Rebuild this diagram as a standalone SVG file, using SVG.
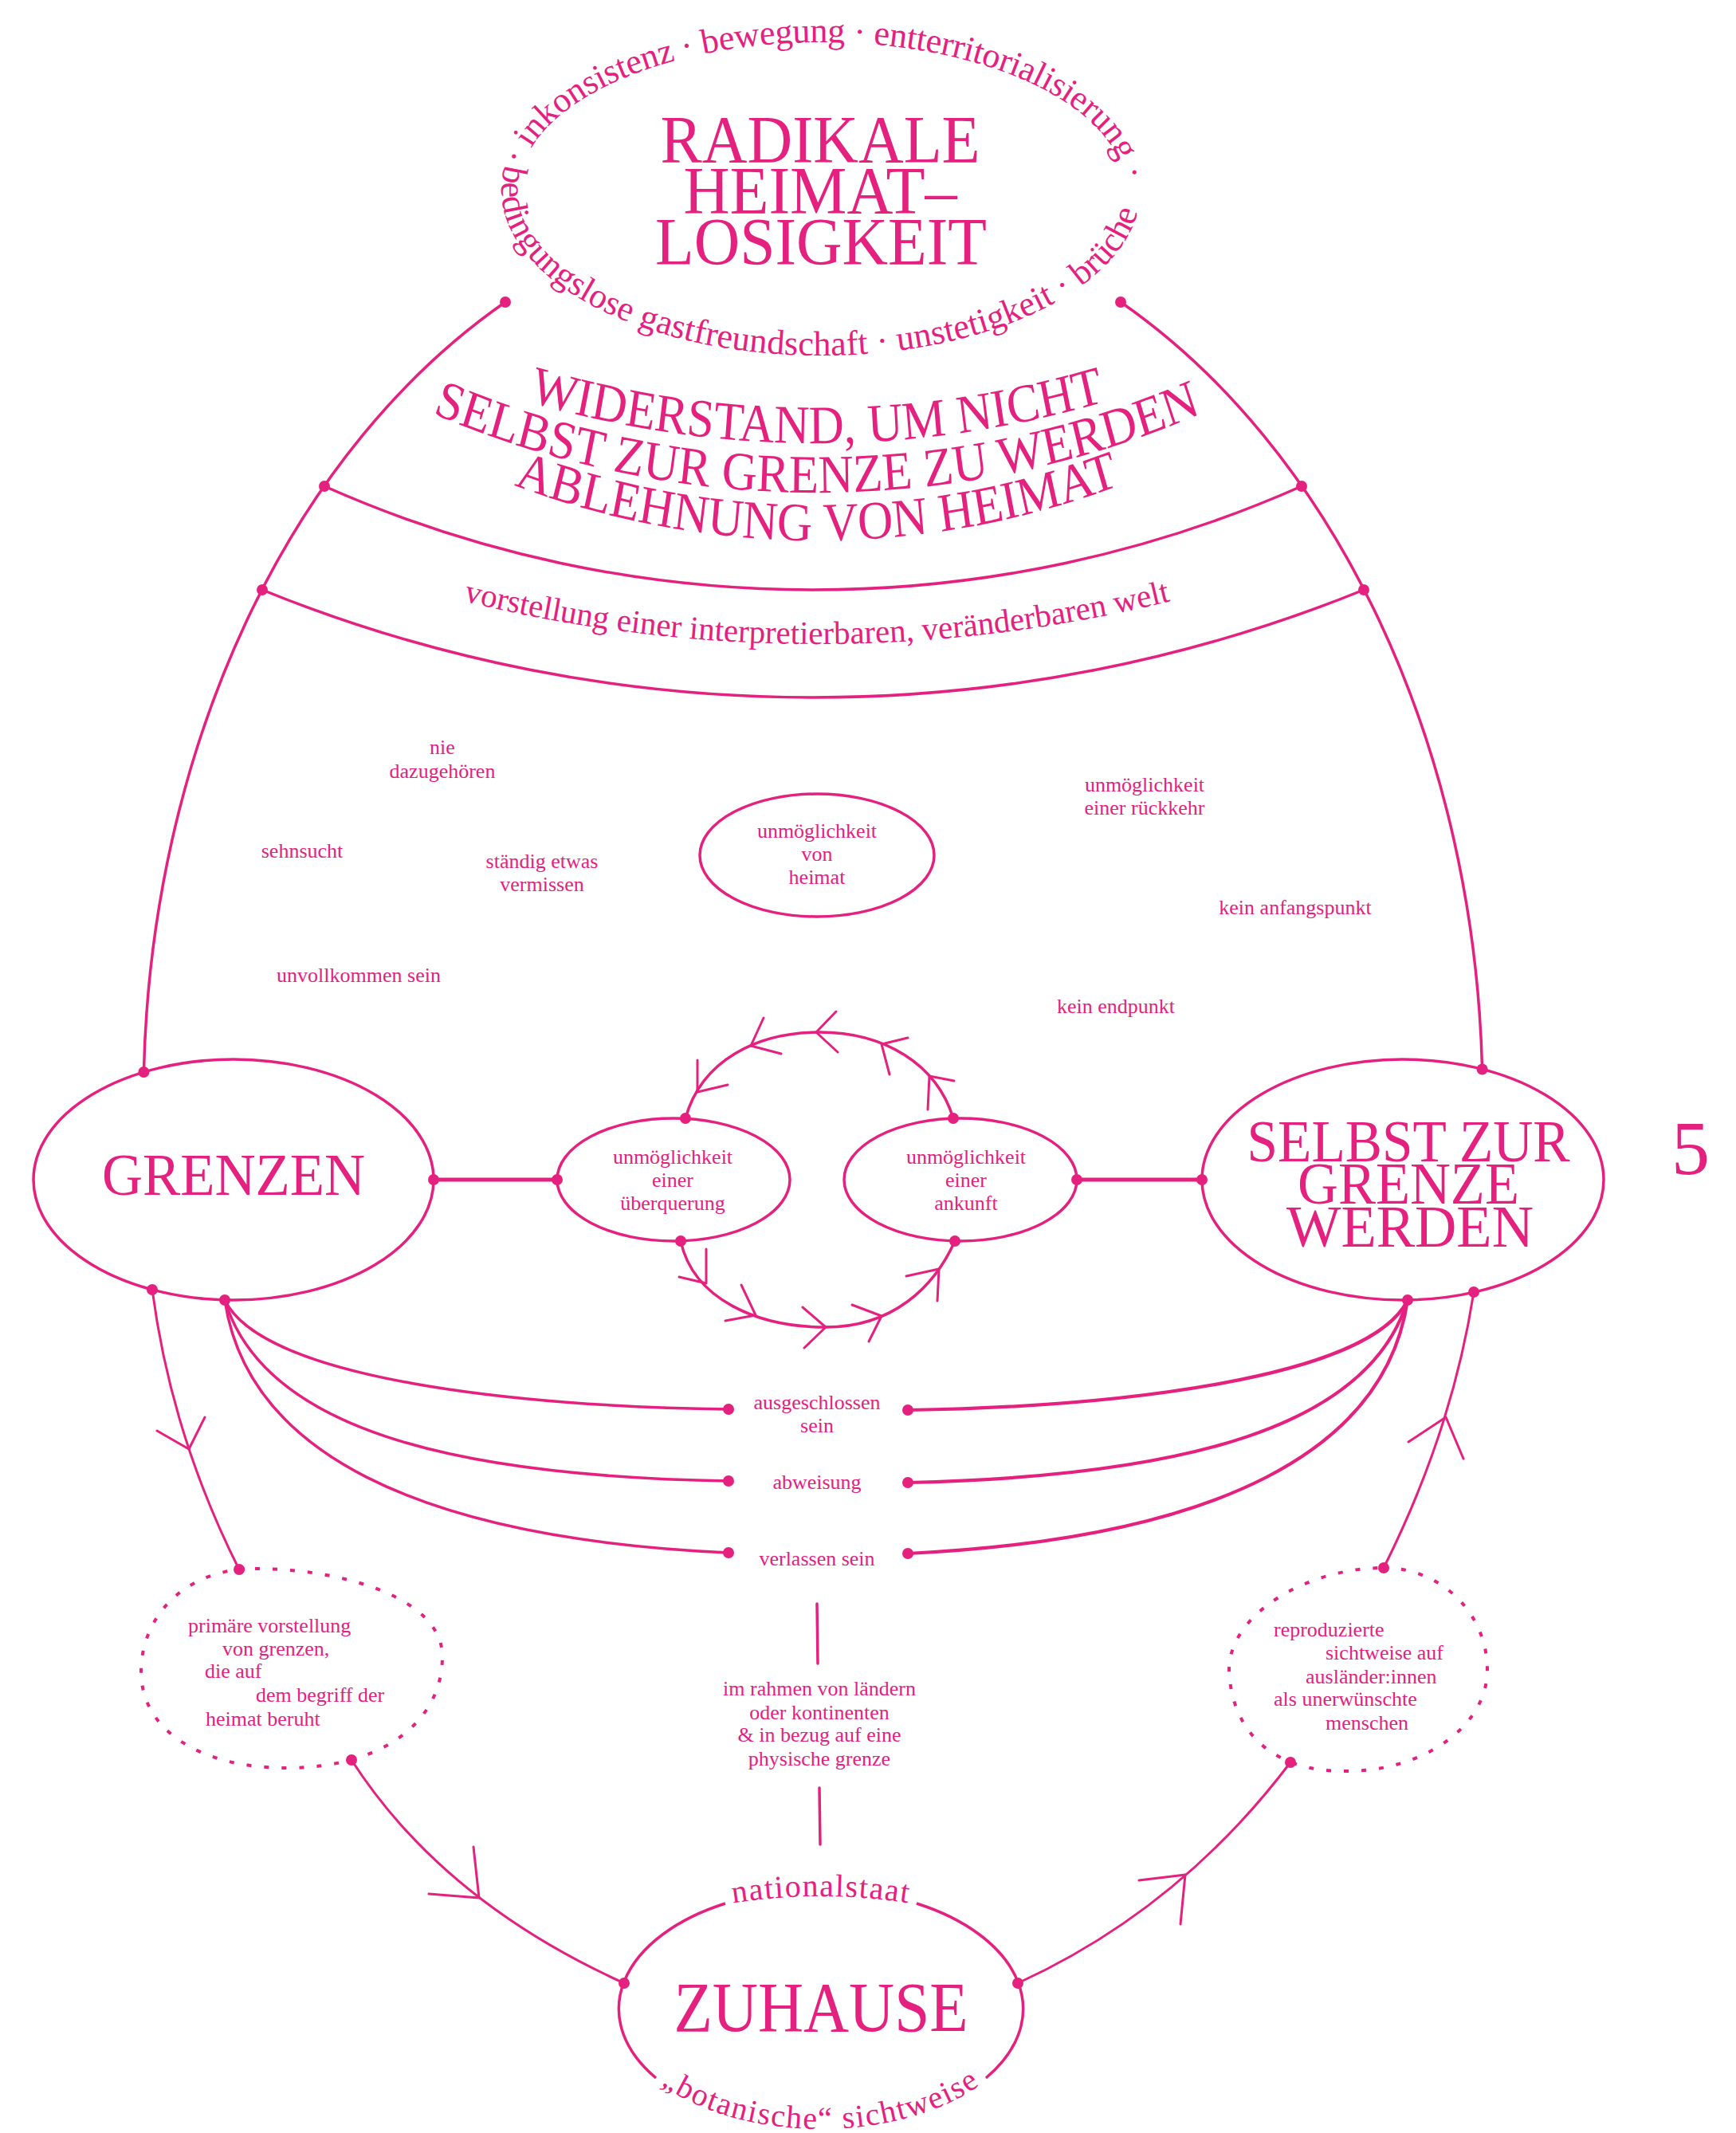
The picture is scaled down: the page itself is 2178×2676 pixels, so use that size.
<svg xmlns="http://www.w3.org/2000/svg" width="2178" height="2676" viewBox="0 0 2178 2676">
<style>
text { font-family: "Liberation Serif", "Times New Roman", serif; fill: #e4217f; }
.s { font-size: 26px; text-anchor: middle; }
.sl { font-size: 26px; }
.big { text-anchor: middle; }
.ln { fill: none; stroke: #e4217f; stroke-width: 3.5; stroke-linecap: round; }
.thin { stroke-width: 3; }
.thick { stroke-width: 5; }
.mid { stroke-width: 4.2; }
.arw { fill: none; stroke: #e4217f; stroke-width: 3; stroke-linecap: round; stroke-linejoin: round; }
.dot { fill: #e4217f; }
.node { fill: none; stroke: #e4217f; stroke-width: 3.5; }
.dash { fill: none; stroke: #e4217f; stroke-width: 4; stroke-dasharray: 6 16; }
</style>
<defs>
<path id="ringTop" d="M651,238 A380,185 0 0 1 1411,238"/>
<path id="ringBot" d="M635.1,201.9 A401,208 0 1 0 1424.9,201.9"/>
<path id="arc1" d="M214.3,326 A1413.3,1272 0 0 0 1835.7,326"/>
<path id="arc2" d="M248.1,397.6 A1354.4,1219 0 0 0 1801.9,397.6"/>
<path id="arc3" d="M341.1,484 A1192.2,1073 0 0 0 1708.9,484"/>
<path id="arcV" d="M505,733.5 A1852,1852 0 0 0 1545,733.5"/>
<path id="natPath" d="M880,2395 Q1030,2363 1180,2395"/>
<path id="botPath" d="M772,2520 A258,151 0 0 0 1288,2520"/>
</defs>
<rect width="2178" height="2676" fill="#ffffff"/>

<g id="connectors">
<path class="ln" d="M634,379 A840,1127 0 0 0 180.4,1345"/>
<path class="ln" d="M1406,379 A840,1127 0 0 1 1859.6,1341.5"/>
<path class="ln" d="M407,610 A1510,1510 0 0 0 1633,610"/>
<path class="ln" d="M329,740 A1836,1836 0 0 0 1711,740"/>
<path class="ln thick" d="M544,1480 L699,1480"/>
<path class="ln thick" d="M1351,1480 L1508,1480"/>
<path class="ln" d="M860,1403 C880,1330 950,1295 1028,1295 C1110,1295 1175,1335 1196,1403"/>
<path class="ln" d="M854,1557 C870,1630 950,1665 1036,1665 C1120,1665 1172,1615 1198,1557"/>
<path class="ln" d="M282,1631 C330,1730 650,1765 914,1768"/>
<path class="ln" d="M282,1631 C330,1790 560,1852 914,1858"/>
<path class="ln" d="M282,1631 C310,1820 520,1930 914,1948"/>
<path class="ln mid" d="M1766,1631 C1718,1730 1398,1765 1139,1769"/>
<path class="ln mid" d="M1766,1631 C1718,1790 1488,1852 1139,1860"/>
<path class="ln mid" d="M1766,1631 C1738,1820 1528,1930 1139,1949"/>
<path class="ln thin" d="M191,1618 Q215,1800 300,1969"/>
<path class="ln thin" d="M441,2208 Q555,2385 783,2488"/>
<path class="ln thin" d="M1277,2488 Q1480,2395 1619,2211"/>
<path class="ln thin" d="M1736,1967 Q1822,1795 1849,1621"/>
<path class="ln" d="M1025,2012 L1026,2087"/>
<path class="ln" d="M1028,2243 L1029,2314"/>
<path class="arw" d="M875,1330 L875,1370 L913,1361"/>
<path class="arw" d="M958,1277 L942,1312 L980,1322"/>
<path class="arw" d="M1049,1269 L1024,1295 L1051,1320"/>
<path class="arw" d="M1139,1302 L1106,1310 L1116,1348"/>
<path class="arw" d="M1197,1356 L1166,1350 L1164,1392"/>
<path class="arw" d="M886,1567 L886,1610 L852,1602"/>
<path class="arw" d="M930,1612 L948,1650 L910,1657"/>
<path class="arw" d="M1007,1640 L1036,1665 L1009,1691"/>
<path class="arw" d="M1069,1637 L1106,1651 L1090,1683"/>
<path class="arw" d="M1137,1601 L1178,1592 L1176,1632"/>
<path class="arw" d="M197,1795 L237,1818 L257,1778"/>
<path class="arw" d="M594,2317 L601,2381 L538,2376"/>
<path class="arw" d="M1429,2359 L1487,2352 L1481,2414"/>
<path class="arw" d="M1767,1809 L1814,1778 L1836,1830"/>
<g class="dot">
<circle cx="634" cy="379" r="7"/><circle cx="1406" cy="379" r="7"/>
<circle cx="407" cy="610" r="7"/><circle cx="1633" cy="610" r="7"/>
<circle cx="329" cy="740" r="7"/><circle cx="1711" cy="740" r="7"/>
<circle cx="180.4" cy="1345" r="7"/><circle cx="1859.6" cy="1341.5" r="7"/>
<circle cx="544" cy="1480" r="7"/><circle cx="699" cy="1480" r="7"/>
<circle cx="1351" cy="1480" r="7"/><circle cx="1508" cy="1480" r="7"/>
<circle cx="860" cy="1403" r="7"/><circle cx="854" cy="1557" r="7"/>
<circle cx="1196" cy="1403" r="7"/><circle cx="1198" cy="1557" r="7"/>
<circle cx="191" cy="1618" r="7"/><circle cx="282" cy="1631" r="7"/>
<circle cx="1766" cy="1631" r="7"/><circle cx="1849" cy="1621" r="7"/>
<circle cx="914" cy="1768" r="7"/><circle cx="914" cy="1858" r="7"/><circle cx="914" cy="1948" r="7"/>
<circle cx="1139" cy="1769" r="7"/><circle cx="1139" cy="1860" r="7"/><circle cx="1139" cy="1949" r="7"/>
<circle cx="300" cy="1969" r="7"/><circle cx="441" cy="2208" r="7"/>
<circle cx="1736" cy="1967" r="7"/><circle cx="1619" cy="2211" r="7"/>
<circle cx="783" cy="2488" r="7"/><circle cx="1277" cy="2488" r="7"/>
</g>
</g>

<g id="radikale-heimatlosigkeit">
<text font-size="44" letter-spacing="-0.3"><textPath href="#ringTop" startOffset="30">· inkonsistenz · bewegung · entterritorialisierung ·</textPath></text>
<text font-size="44" letter-spacing="0.2"><textPath href="#ringBot" startOffset="5">bedingungslose gastfreundschaft · unstetigkeit · brüche</textPath></text>
<text class="big" font-size="85" x="1029" y="204" textLength="401" lengthAdjust="spacingAndGlyphs">RADIKALE</text>
<text class="big" font-size="85" x="1029" y="268" textLength="343" lengthAdjust="spacingAndGlyphs">HEIMAT–</text>
<text class="big" font-size="85" x="1030" y="332" textLength="416" lengthAdjust="spacingAndGlyphs">LOSIGKEIT</text>
</g>

<g id="widerstand" transform="matrix(0.9 0 0 1 102.5 0)">
<text font-size="68" text-anchor="middle"><textPath href="#arc1" startOffset="50%">WIDERSTAND, UM NICHT</textPath></text>
<text font-size="68" text-anchor="middle"><textPath href="#arc2" startOffset="50%">SELBST ZUR GRENZE ZU WERDEN</textPath></text>
<text font-size="68" text-anchor="middle"><textPath href="#arc3" startOffset="50%">ABLEHNUNG VON HEIMAT</textPath></text>
</g>

<g id="vorstellung">
<text font-size="41" text-anchor="middle"><textPath href="#arcV" startOffset="50%">vorstellung einer interpretierbaren, veränderbaren welt</textPath></text>
</g>

<g id="labels">
<text class="s" x="555" y="946">nie</text>
<text class="s" x="555" y="976">dazugehören</text>
<text class="s" x="379" y="1076">sehnsucht</text>
<text class="s" x="680" y="1089">ständig etwas</text>
<text class="s" x="680" y="1118">vermissen</text>
<text class="s" x="1436" y="993">unmöglichkeit</text>
<text class="s" x="1436" y="1022">einer rückkehr</text>
<text class="s" x="1625" y="1147">kein anfangspunkt</text>
<text class="s" x="450" y="1232">unvollkommen sein</text>
<text class="s" x="1400" y="1271">kein endpunkt</text>
</g>

<g id="unmoeglichkeit-von-heimat">
<ellipse class="node" cx="1025" cy="1073" rx="147" ry="77"/>
<text class="s" x="1025" y="1051">unmöglichkeit</text>
<text class="s" x="1025" y="1080">von</text>
<text class="s" x="1025" y="1109">heimat</text>
</g>

<g id="grenzen">
<ellipse class="node" cx="293" cy="1480" rx="251" ry="151"/>
<text class="big" font-size="74" x="293" y="1499" textLength="330" lengthAdjust="spacingAndGlyphs">GRENZEN</text>
</g>

<g id="selbst-zur-grenze-werden">
<ellipse class="node" cx="1760" cy="1480" rx="252" ry="151"/>
<text class="big" font-size="74" x="1767" y="1457" textLength="405" lengthAdjust="spacingAndGlyphs">SELBST ZUR</text>
<text class="big" font-size="74" x="1767" y="1510" textLength="278" lengthAdjust="spacingAndGlyphs">GRENZE</text>
<text class="big" font-size="74" x="1769" y="1564" textLength="310" lengthAdjust="spacingAndGlyphs">WERDEN</text>
</g>

<g id="nummer">
<text font-size="96" x="2121" y="1473" text-anchor="middle">5</text>
</g>

<g id="ueberquerung">
<ellipse class="node" cx="845" cy="1480" rx="146" ry="77"/>
<text class="s" x="844" y="1460">unmöglichkeit</text>
<text class="s" x="844" y="1489">einer</text>
<text class="s" x="844" y="1518">überquerung</text>
</g>

<g id="ankunft">
<ellipse class="node" cx="1205" cy="1480" rx="146" ry="77"/>
<text class="s" x="1212" y="1460">unmöglichkeit</text>
<text class="s" x="1212" y="1489">einer</text>
<text class="s" x="1212" y="1518">ankunft</text>
</g>

<g id="gefuehle">
<text class="s" x="1025" y="1768">ausgeschlossen</text>
<text class="s" x="1025" y="1797">sein</text>
<text class="s" x="1025" y="1868">abweisung</text>
<text class="s" x="1025" y="1964">verlassen sein</text>
</g>

<g id="primaere-vorstellung">
<path class="dash" d="M320,1968 C430,1968 555,2005 555,2078 C555,2160 480,2218 360,2218 C250,2218 177,2170 177,2097 C177,2030 230,1968 320,1968 Z"/>
<text class="sl" x="236" y="2048">primäre vorstellung</text>
<text class="sl" x="279" y="2077">von grenzen,</text>
<text class="sl" x="257" y="2105">die auf</text>
<text class="sl" x="321" y="2135">dem begriff der</text>
<text class="sl" x="258" y="2165">heimat beruht</text>
</g>

<g id="im-rahmen">
<text class="s" x="1028" y="2127">im rahmen von ländern</text>
<text class="s" x="1028" y="2157">oder kontinenten</text>
<text class="s" x="1028" y="2185">&amp; in bezug auf eine</text>
<text class="s" x="1028" y="2215">physische grenze</text>
</g>

<g id="reproduzierte-sichtweise">
<path class="dash" d="M1736,1967 C1808,1967 1866,2024 1866,2095 C1866,2165 1787,2222 1690,2222 C1600,2224 1545,2175 1542,2095 C1542,2025 1640,1967 1736,1967 Z"/>
<text class="sl" x="1598" y="2053">reproduzierte</text>
<text class="sl" x="1663" y="2082">sichtweise auf</text>
<text class="sl" x="1638" y="2112">ausländer:innen</text>
<text class="sl" x="1598" y="2140">als unerwünschte</text>
<text class="sl" x="1663" y="2170">menschen</text>
</g>

<g id="zuhause">
<path class="node" d="M910,2388 A253,150 0 0 0 823,2607"/>
<path class="node" d="M1150,2388 A253,150 0 0 1 1237,2607"/>
<text font-size="40" letter-spacing="1.5" text-anchor="middle"><textPath href="#natPath" startOffset="50%">nationalstaat</textPath></text>
<text class="big" font-size="88" x="1030" y="2548" textLength="369" lengthAdjust="spacingAndGlyphs">ZUHAUSE</text>
<text font-size="40" letter-spacing="1.7" text-anchor="middle"><textPath href="#botPath" startOffset="50%">„botanische“ sichtweise</textPath></text>
</g>
</svg>
